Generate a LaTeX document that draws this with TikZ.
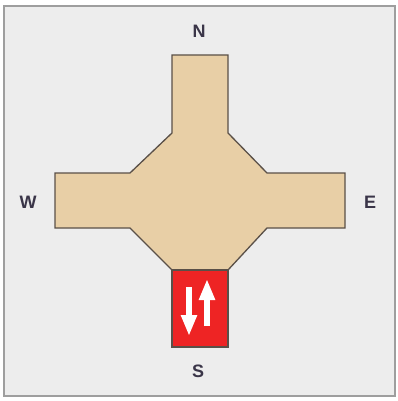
\documentclass[tikz,border=0pt]{standalone}
\usepackage{fontspec}
\setmainfont{Liberation Sans}
\usetikzlibrary{arrows.meta}
\definecolor{plazaTan}{HTML}{E8CFA6}
\definecolor{plazaEdge}{HTML}{5A5048}
\definecolor{laneRed}{HTML}{EE2424}
\definecolor{fieldGray}{HTML}{EDEDED}
\definecolor{labelInk}{HTML}{3A3548}

\begin{document}
\begin{tikzpicture}[
  x=1pt, y=-1pt,
  every node/.style={font=\bfseries\fontsize{18}{18}\selectfont, text=labelInk, inner sep=0pt},
  field/.style={draw=black!38, fill=fieldGray, line width=1.6pt},
  road/.style={draw=plazaEdge, fill=plazaTan, line width=1.3pt, line join=miter},
  lane/.style={draw=plazaEdge, fill=laneRed, line width=1.3pt},
  flow/.style={-{Triangle[width=15pt,length=21pt]}, line width=6pt, white},
]
  \useasboundingbox (0,0) rectangle (398,401);
  \draw[field] (4,6) rectangle (395,396);

  % crossing
  \draw[road] (172,55) -- (228,55) -- (228,133) -- (267,173) -- (345,173)
    -- (345,228) -- (267,228) -- (228,270) -- (172,270) -- (130,228)
    -- (55,228) -- (55,173) -- (130,173) -- (172,133) -- cycle;

  % south lane
  \draw[lane] (172,270) rectangle (228,347);
  \coordinate (inTop) at (189,287);
  \coordinate (inEnd) at (189,336);
  \coordinate (outBot) at (207,326);
  \coordinate (outEnd) at (207,279);
  \draw[flow] (inTop) -- (inEnd);
  \draw[flow] (outBot) -- (outEnd);

  % compass labels
  \node (north) at (199,31) {N};
  \node (west) at (28,202) {W};
  \node (east) at (370,202) {E};
  \node (south) at (198,371) {S};
\end{tikzpicture}
\end{document}
